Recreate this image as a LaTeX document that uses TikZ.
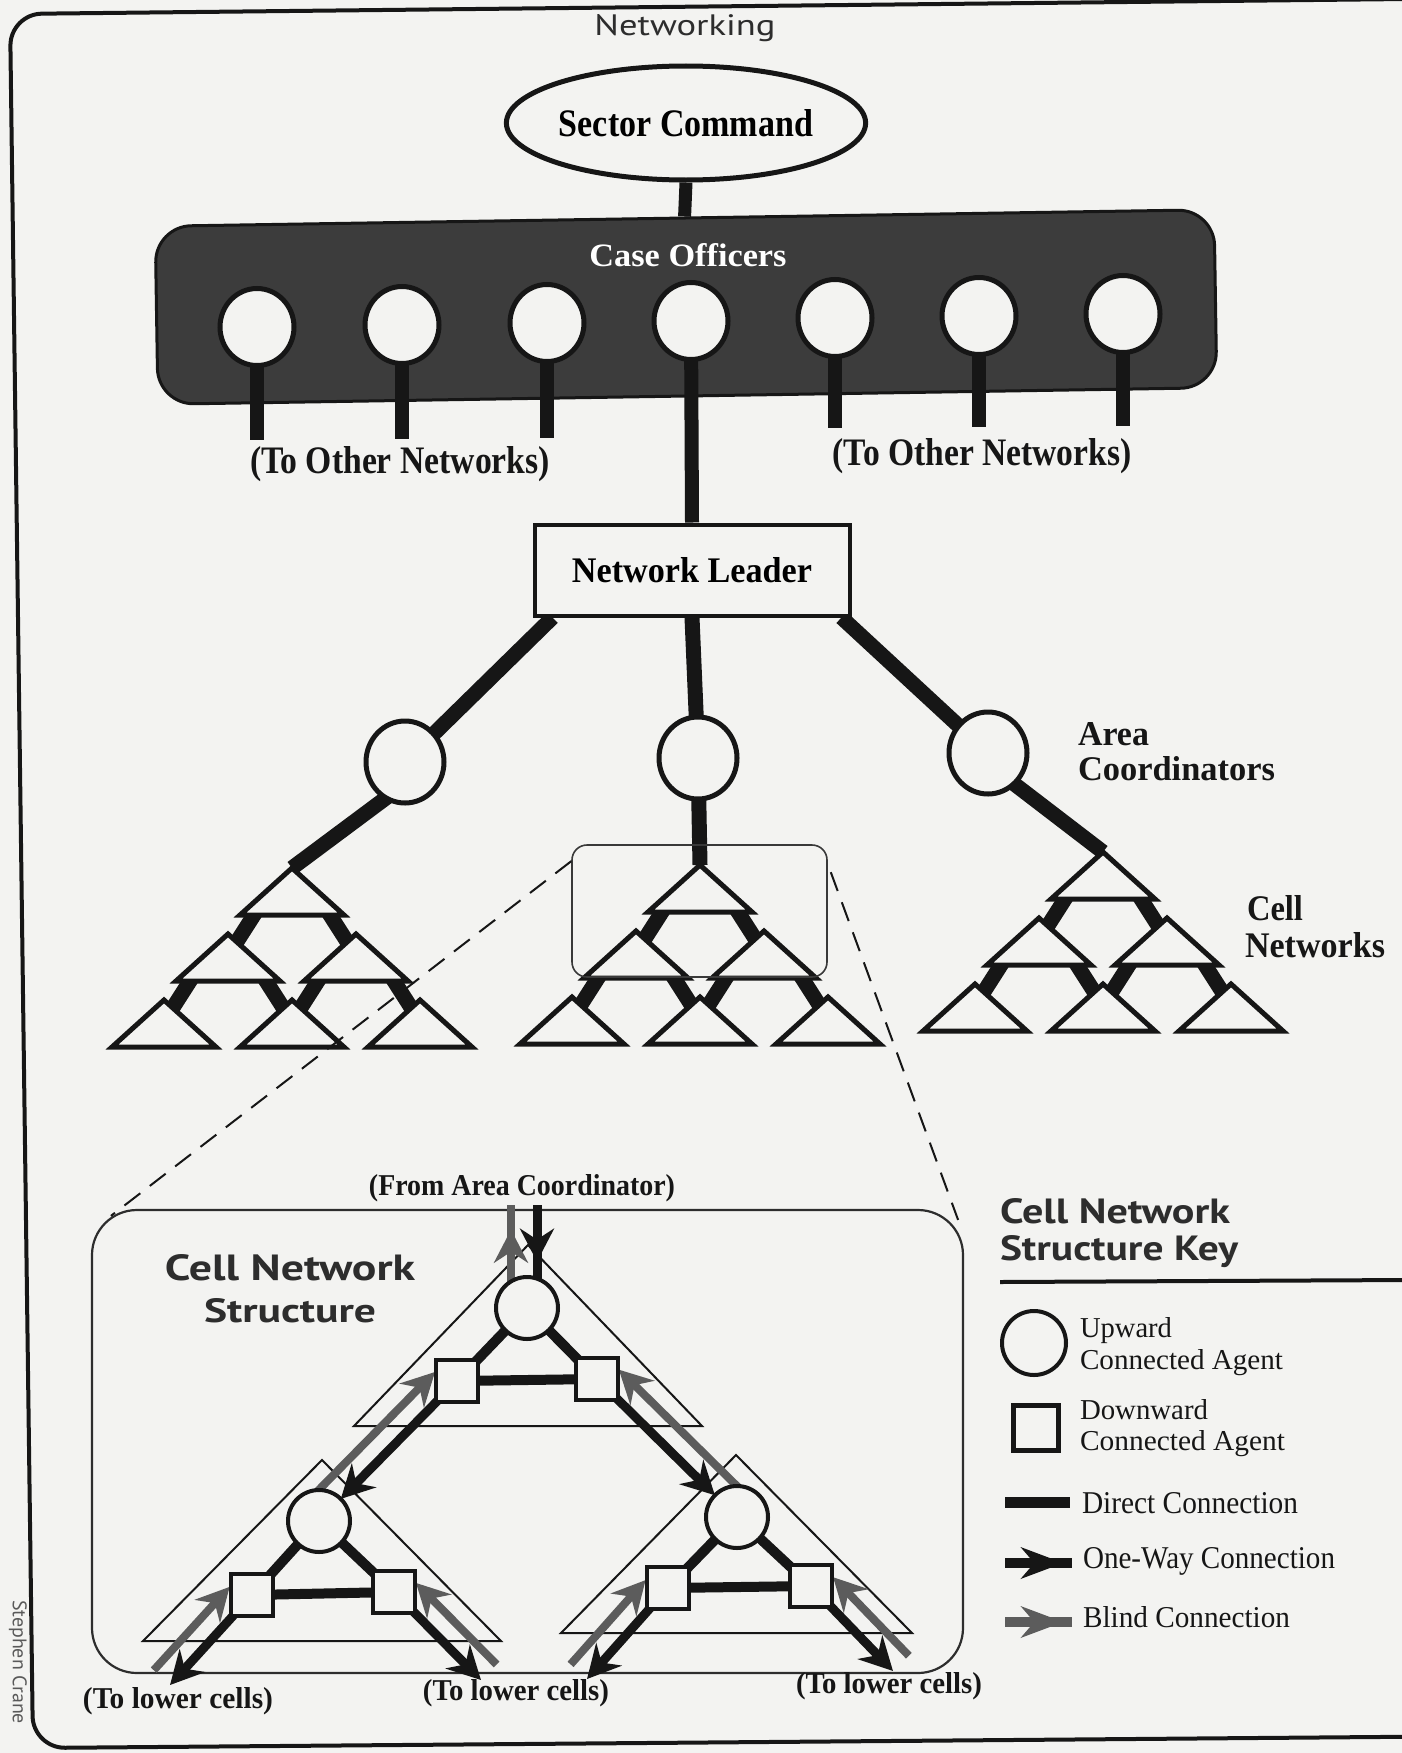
\documentclass[tikz,border=0pt]{standalone}
\usepackage{fontspec}
\setmainfont{Liberation Serif}
\newfontfamily\sansf{PT Sans}
\usepackage{graphicx}
\usetikzlibrary{shapes.geometric,arrows.meta,calc,decorations.markings}
\definecolor{paper}{RGB}{243,243,241}
\definecolor{ink}{RGB}{22,22,22}
\definecolor{boxfill}{RGB}{60,60,60}
\definecolor{blindc}{RGB}{92,92,92}
\definecolor{titlec}{RGB}{45,45,45}
\pgfdeclarelayer{paperl}
\pgfdeclarelayer{boxl}
\pgfdeclarelayer{lines}
\pgfsetlayers{paperl,boxl,lines,main}
\newcommand\fitt[3]{\resizebox{#1pt}{#2pt}{#3}}
\newcommand\ctri[2]{\filldraw[streetri] ({#1-52},{#2+47}) -- ({#1},{#2}) -- ({#1+52},{#2+47}) -- cycle;}
\newcommand\cbars[2]{\draw[sbar] ({#1-31.6},{#2+37}) -- ({#1-60.4},{#2+82}); \draw[sbar] ({#1+31.6},{#2+37}) -- ({#1+60.4},{#2+82});}
\newcommand\celltree[2]{%
  \begin{pgfonlayer}{lines}
  \cbars{#1}{#2}\cbars{#1-64}{#2+66}\cbars{#1+64}{#2+66}
  \end{pgfonlayer}
  \ctri{#1}{#2}\ctri{#1-64}{#2+66}\ctri{#1+64}{#2+66}
  \ctri{#1-128}{#2+132}\ctri{#1}{#2+132}\ctri{#1+128}{#2+132}}
\begin{document}
\begin{tikzpicture}[x=1pt,y=-1pt,
  lbl/.style={inner sep=0pt,outer sep=0pt,text=ink},
  streetri/.style={draw=ink,fill=paper,line width=5pt},
  sbar/.style={draw=ink,line width=15pt},
  sthick/.style={draw=ink,line width=15pt},
  sstem/.style={draw=ink,line width=14pt},
  soff/.style={ellipse,draw=ink,fill=paper,line width=5pt,minimum width=74pt,minimum height=77pt,inner sep=0pt},
  sarea/.style={ellipse,draw=ink,fill=paper,line width=5pt,minimum width=78pt,minimum height=82pt,inner sep=0pt},
  sthin/.style={draw=ink,line width=2pt},
  scirc/.style={circle,draw=ink,fill=paper,line width=4pt,minimum size=62pt,inner sep=0pt},
  ssq/.style={rectangle,draw=ink,fill=paper,line width=4pt,minimum size=42pt,inner sep=0pt},
  sdirect/.style={draw=ink,line width=10pt},
  soneway/.style={color=ink,line width=9pt},
  sblind/.style={color=blindc,line width=8pt},
  tipc/.tip={Stealth[length=33pt,width=34pt,inset=11pt]},
  marrow/.style={postaction={decorate},decoration={markings,mark=at position #1 with {\arrow{tipc}}}},
  karrow/.style={postaction={decorate},decoration={markings,mark=at position #1 with {\arrow{Stealth[length=42pt,width=31pt,inset=13pt]}}}},
  sdash/.style={draw=ink,line width=2pt,dash pattern=on 20pt off 12pt}
]
\useasboundingbox (0,0) rectangle (1402,1753);
\begin{pgfonlayer}{paperl}
\fill[paper] (0,0) rectangle (1402,1753);
\draw[ink,line width=4pt,rounded corners=32pt] (1500,-2) -- (10,14) -- (33,1748) -- (1500,1736);
\end{pgfonlayer}

% ---------- top: networking ----------
\node[lbl,anchor=base,text=titlec] (tnet) at (685,36) {\fitt{181}{21}{\sansf Networking}};
\node[ellipse,draw=ink,fill=paper,line width=5pt,minimum width=352pt,minimum height=114pt,inner sep=0pt] (sc) at (686,123) {\fitt{254}{27}{\bfseries Sector Command}};
\begin{pgfonlayer}{boxl}
\node[rectangle,rounded corners=36pt,fill=boxfill,draw=ink,line width=3pt,minimum width=1059pt,minimum height=178pt,rotate=0.9] (co) at (686,307) {};
\end{pgfonlayer}
\node[lbl,anchor=base,text=white] (tco) at (688,266) {\fitt{197}{23}{\bfseries Case Officers}};
\foreach \i/\x/\y in {1/257/327,2/402/325,3/547/323,4/691/321,5/835/318,6/979/316,7/1123/314}
  \node[soff] (o\i) at (\x,\y) {};
\coordinate (e1) at (257,440);
\coordinate (e2) at (402,439);
\coordinate (e3) at (547,438);
\coordinate (e5) at (835,428);
\coordinate (e6) at (979,427);
\coordinate (e7) at (1123,426);
\node[lbl,anchor=base] (ton1) at (400,473) {\fitt{300}{27}{\bfseries (To Other Networks)}};
\node[lbl,anchor=base] (ton2) at (982,465) {\fitt{299}{27}{\bfseries (To Other Networks)}};

\node[rectangle,draw=ink,fill=paper,line width=4pt,minimum width=315pt,minimum height=91pt,inner sep=0pt] (nl) at (692,570) {\fitt{240}{25}{\bfseries Network Leader}};
\node[sarea] (ac1) at (405,762) {};
\node[sarea] (ac2) at (698,758) {};
\node[sarea] (ac3) at (988,753) {};
\coordinate (ap1) at (292,868);
\coordinate (ap2) at (700,865);
\coordinate (ap3) at (1103,852);
\node[lbl,anchor=base west] (tar1) at (1078,745) {\fitt{71}{23}{\bfseries Area}};
\node[lbl,anchor=base west] (tar2) at (1078,780) {\fitt{197}{24}{\bfseries Coordinators}};
\node[lbl,anchor=base west] (tcn1) at (1247,920) {\fitt{56}{25}{\bfseries Cell}};
\node[lbl,anchor=base west] (tcn2) at (1245,957) {\fitt{140}{25}{\bfseries Networks}};

\begin{pgfonlayer}{lines}
\foreach \i in {1,2,3,5,6,7} \draw[sstem] (o\i.center) -- (e\i);
\draw[sstem] (o4.center) -- (nl.north);
\draw[draw=ink,line width=13pt] (sc.south) -- (co.north);
\draw[sthick] ([xshift=20pt]nl.south west) -- (ac1.center);
\draw[sthick] (nl.south) -- (ac2.center);
\draw[sthick] ([xshift=-10pt]nl.south east) -- (ac3.center);
\draw[sthick] ($(ac1.center)+(-11,30)$) -- (ap1);
\draw[sthick] (ac2.center) -- (ap2);
\draw[sthick] ($(ac3.center)+(25,30)$) -- (ap3);
\end{pgfonlayer}

% ---------- trees ----------
\celltree{292}{868}
\celltree{700}{865}
\celltree{1103}{852}

\node[rectangle,rounded corners=15pt,draw=ink!85,line width=1.6pt,minimum width=255pt,minimum height=132pt] (zb) at (699.5,911) {};

% ---------- cell network structure ----------
\begin{pgfonlayer}{boxl}
\node[rectangle,rounded corners=45pt,draw=titlec,line width=2.2pt,minimum width=871pt,minimum height=463pt] (cb) at (527.5,1441.5) {};
\draw[sthin] (354,1426) -- (528,1245) -- (702,1426) -- cycle;
\draw[sthin] (143,1641) -- (322,1460) -- (501,1641) -- cycle;
\draw[sthin] (561,1633) -- (736,1455) -- (912,1633) -- cycle;
\end{pgfonlayer}
\draw[sdash] ([yshift=-17pt]zb.north west) -- ([xshift=20pt,yshift=-7pt]cb.north west);
\draw[sdash] ([xshift=3pt,yshift=-28pt]zb.north east) -- ([xshift=-6pt,yshift=-11pt]cb.north east);

\node[lbl,anchor=base] (tfac) at (522,1195) {\fitt{306}{21}{\bfseries (From Area Coordinator)}};
\node[lbl,anchor=base,text=titlec] (tcs1) at (290,1280) {\fitt{250}{26}{\sansf\bfseries Cell Network}};
\node[lbl,anchor=base,text=titlec] (tcs2) at (290,1322) {\fitt{172}{24}{\sansf\bfseries Structure}};

\node[scirc] (tc) at (527,1308) {};
\node[scirc] (blc) at (319,1521) {};
\node[scirc] (brc) at (737,1517) {};
\node[ssq] (tl) at (457,1381) {};
\node[ssq] (tr) at (597,1379) {};
\node[ssq] (bll) at (252,1595) {};
\node[ssq] (blr) at (394,1592) {};
\node[ssq] (brl) at (668,1588) {};
\node[ssq] (brr) at (811,1586) {};
\coordinate (fac) at (527,1205);
\coordinate (lo1) at (170,1685);
\coordinate (lo2) at (481,1680);
\coordinate (lo3) at (587,1679);
\coordinate (lo4) at (893,1671);

\node[lbl,anchor=base] (tlc1) at (178,1708) {\fitt{190}{21}{\bfseries (To lower cells)}};
\node[lbl,anchor=base] (tlc2) at (516,1700) {\fitt{186}{21}{\bfseries (To lower cells)}};
\node[lbl,anchor=base] (tlc3) at (889,1693) {\fitt{186}{21}{\bfseries (To lower cells)}};

\begin{pgfonlayer}{lines}
\draw[sdirect] (tc.center) -- (tl.center);
\draw[sdirect] (tc.center) -- (tr.center);
\draw[sdirect] (tl.center) -- (tr.center);
\draw[sdirect] (blc.center) -- (bll.center);
\draw[sdirect] (blc.center) -- (blr.center);
\draw[sdirect] (bll.center) -- (blr.center);
\draw[sdirect] (brc.center) -- (brl.center);
\draw[sdirect] (brc.center) -- (brr.center);
\draw[sdirect] (brl.center) -- (brr.center);
% from area coordinator
\draw[sblind,marrow=0.76] ([xshift=-16pt]tc.center) -- ([xshift=-16pt]fac);
\draw[soneway,marrow=0.55] ([xshift=10pt]fac) -- ([xshift=10pt]tc.center);
% between cells
\draw[soneway,-tipc,shorten >=31pt] (tl.center) -- (blc.center);
\draw[sblind,-tipc,shorten >=9pt] ($(blc.center)!22pt!90:(tl.center)$) -- ($(tl.center)!22pt!-90:(blc.center)$);
\draw[soneway,-tipc,shorten >=31pt] (tr.center) -- (brc.center);
\draw[sblind,-tipc,shorten >=9pt] ($(brc.center)!22pt!-90:(tr.center)$) -- ($(tr.center)!22pt!90:(brc.center)$);
% to lower cells
\draw[soneway,-tipc] (bll.center) -- (lo1);
\draw[sblind,-tipc,shorten >=9pt] ($(lo1)!22pt!90:(bll.center)$) -- ($(bll.center)!22pt!-90:(lo1)$);
\draw[soneway,-tipc] (blr.center) -- (lo2);
\draw[sblind,-tipc,shorten >=9pt] ($(lo2)!22pt!-90:(blr.center)$) -- ($(blr.center)!22pt!90:(lo2)$);
\draw[soneway,-tipc] (brl.center) -- (lo3);
\draw[sblind,-tipc,shorten >=9pt] ($(lo3)!22pt!90:(brl.center)$) -- ($(brl.center)!22pt!-90:(lo3)$);
\draw[soneway,-tipc] (brr.center) -- (lo4);
\draw[sblind,-tipc,shorten >=9pt] ($(lo4)!22pt!-90:(brr.center)$) -- ($(brr.center)!22pt!90:(lo4)$);
\end{pgfonlayer}

% ---------- key ----------
\node[lbl,anchor=base west,text=titlec] (tk1) at (1000,1223) {\fitt{230}{25}{\sansf\bfseries Cell Network}};
\node[lbl,anchor=base west,text=titlec] (tk2) at (1000,1260) {\fitt{238}{25}{\sansf\bfseries Structure Key}};
\coordinate (kr1) at (1000,1282);
\coordinate (kr2) at (1410,1280);
\draw[ink,line width=4pt] (kr1) -- (kr2);
\node[circle,draw=ink,fill=paper,line width=4pt,minimum size=64pt,inner sep=0pt] (kc) at (1034,1343) {};
\node[rectangle,draw=ink,fill=paper,line width=4.5pt,minimum size=45pt,inner sep=0pt] (ks) at (1036,1428) {};
\node[lbl,anchor=base west] (tk3) at (1080,1337) {\fitt{92}{20}{Upward}};
\node[lbl,anchor=base west] (tk4) at (1080,1369) {\fitt{203}{20}{Connected Agent}};
\node[lbl,anchor=base west] (tk5) at (1080,1419) {\fitt{128}{20}{Downward}};
\node[lbl,anchor=base west] (tk6) at (1080,1450) {\fitt{205}{20}{Connected Agent}};
\node[lbl,anchor=base west] (tk7) at (1082,1513) {\fitt{216}{21}{Direct Connection}};
\node[lbl,anchor=base west] (tk8) at (1083,1568) {\fitt{252}{21}{One-Way Connection}};
\node[lbl,anchor=base west] (tk9) at (1083,1627) {\fitt{207}{21}{Blind Connection}};
\coordinate (kd1) at (1005,1502);
\coordinate (kd2) at (1070,1502);
\coordinate (ko1) at (1005,1563);
\coordinate (ko2) at (1072,1563);
\coordinate (kb1) at (1005,1622);
\coordinate (kb2) at (1072,1622);
\draw[ink,line width=11pt] (kd1) -- (kd2);
\draw[color=ink,line width=10pt,karrow=0.87] (ko1) -- (ko2);
\draw[color=blindc,line width=10pt,karrow=0.87] (kb1) -- (kb2);

\node[lbl,rotate=-90,text=black!65] (tsc) at (18,1662) {\fitt{124}{14}{\sansf Stephen Crane}};
\end{tikzpicture}
\end{document}
